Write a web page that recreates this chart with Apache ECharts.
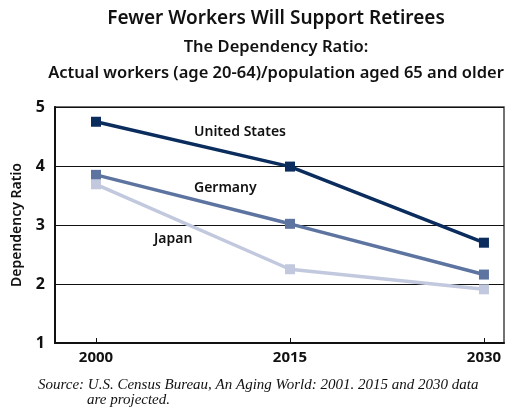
<!DOCTYPE html>
<html><head><meta charset="utf-8">
<script src="https://cdn.jsdelivr.net/npm/echarts@6/dist/echarts.min.js"></script>
<style>html,body{margin:0;padding:0;background:#fff}#c{width:514px;height:412px}</style>
</head><body><div id="c"></div>
<script>
const years = [2000, 2015, 2030];
const unitedStates = [4.75, 3.99, 2.70];
const germany = [3.85, 3.02, 2.16];
const japan = [3.69, 2.25, 1.91];
const yTicks = [1, 2, 3, 4, 5];

const FONT = '"Noto Sans", "Open Sans", sans-serif';
const chart = echarts.init(document.getElementById('c'));
function mk(name, vals, color) {
  return {
    name, type: 'line', data: years.map((y, i) => [y, vals[i]]),
    symbol: 'rect', symbolSize: 10, showSymbol: true,
    lineStyle: { color, width: 3.5 }, itemStyle: { color },
    animation: false, z: 3
  };
}
function ctext(t, y, font) {
  return { type: 'text', x: 276, y, style: { text: t, font, fill: '#111', align: 'center', verticalAlign: 'middle' } };
}
chart.setOption({
  animation: false,
  grid: { left: 55, right: 10, top: 107, bottom: 69, show: true, borderColor: '#444', borderWidth: 1.5 },
  xAxis: {
    type: 'value', min: 1996.83, max: 2031.55,
    axisLine: { show: true, lineStyle: { color: '#111', width: 2 } },
    axisTick: { show: true, inside: true, length: 5, customValues: years, lineStyle: { color: '#111', width: 1 } },
    axisLabel: { customValues: years, formatter: v => String(v), fontFamily: FONT, fontSize: 15, fontWeight: 'bold', color: '#111', margin: 7 },
    splitLine: { show: false }
  },
  yAxis: {
    type: 'value', min: 1, max: 5, interval: 1,
    name: 'Dependency Ratio', nameLocation: 'middle', nameGap: 31,
    nameTextStyle: { fontFamily: FONT, fontSize: 14, fontWeight: 600, color: '#111' },
    axisLine: { show: true, lineStyle: { color: '#111', width: 2 } },
    axisTick: { show: false },
    axisLabel: { fontFamily: FONT, fontSize: 16, fontWeight: 'bold', color: '#111', margin: 10,
      formatter: v => yTicks.includes(v) ? String(v) : '' },
    splitLine: { show: true, lineStyle: { color: '#111', width: 1 } }
  },
  series: [
    mk('United States', unitedStates, '#0a2d5e'),
    mk('Germany', germany, '#5d74a1'),
    mk('Japan', japan, '#c2c9de')
  ],
  graphic: [
    ctext('Fewer Workers Will Support Retirees', 19, '600 19px ' + FONT),
    ctext('The Dependency Ratio:', 47, '600 16.5px ' + FONT),
    ctext('Actual workers (age 20-64)/population aged 65 and older', 73, '600 16.5px ' + FONT),
    { type: 'text', left: 194, top: 125, style: { text: 'United States', font: '600 14px ' + FONT, fill: '#111' } },
    { type: 'text', left: 194, top: 181, style: { text: 'Germany', font: '600 14px ' + FONT, fill: '#111' } },
    { type: 'text', left: 154, top: 232, style: { text: 'Japan', font: '600 14px ' + FONT, fill: '#111' } },
    { type: 'text', left: 38, top: 378, style: { text: 'Source: U.S. Census Bureau, An Aging World: 2001. 2015 and 2030 data', font: 'italic 15px "Liberation Serif", serif', fill: '#111' } },
    { type: 'text', left: 87, top: 393, style: { text: 'are projected.', font: 'italic 15px "Liberation Serif", serif', fill: '#111' } }
  ]
});
</script></body></html>
